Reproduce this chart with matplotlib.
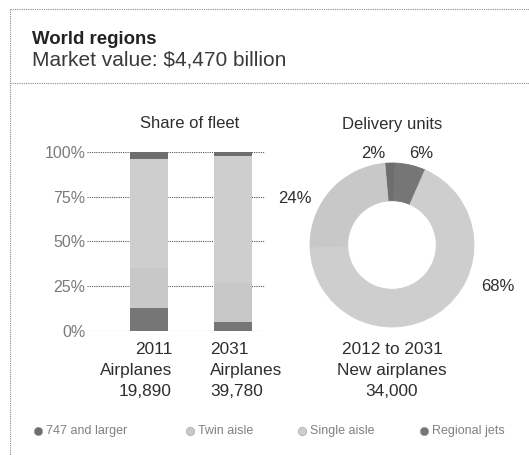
import matplotlib
matplotlib.use("Agg")
import matplotlib.pyplot as plt
import numpy as np

plt.rcParams['font.family'] = ['Liberation Sans', 'DejaVu Sans']

# Fleet share (%) per year, stacked bottom to top
years = ["2011", "2031"]
fleet_counts = ["19,890", "39,780"]
regional_jets = [13, 5]
twin_aisle = [22, 22]
single_aisle = [61, 71]
larger_747 = [4, 2]

# Deliveries 2012-2031 (%), clockwise from the top
delivery_labels = ["747 and larger", "Regional jets", "Single aisle", "Twin aisle"]
delivery_share = [2, 6, 68, 24]
delivery_total = "34,000"

yticks = [0, 25, 50, 75, 100]
legend_names = ["747 and larger", "Twin aisle", "Single aisle", "Regional jets"]

c_747 = "#6e6e6e"
c_regional = "#767676"
c_twin = "#c8c8c8"
c_single = "#cecece"
text_dark = "#2e2e2e"
text_grey = "#7a7a7a"

W, H = 529, 455
fig = plt.figure(figsize=(W / 100, H / 100), dpi=100)


def box(x0, y0, x1, y1):
    # pixel box (top-left origin) -> figure fraction rect
    return [x0 / W, 1 - y1 / H, (x1 - x0) / W, (y1 - y0) / H]


# background layer in pixel units for frame, titles and legend
bg = fig.add_axes([0, 0, 1, 1])
bg.set_xlim(0, W)
bg.set_ylim(H, 0)
bg.axis("off")
frame = dict(color="#8a8a8a", lw=0.8, ls=(0, (1, 1)))
bg.plot([10, 10], [9, H], **frame)
bg.plot([10, W], [9, 9], **frame)
bg.plot([10, W], [83, 83], **frame)

bg.text(32, 40, "World regions", fontsize=13.4, fontweight="bold",
        color="#222222", va="center")
bg.text(32, 60, "Market value: $4,470 billion", fontsize=15,
        color="#3a3a3a", va="center")

bg.text(190, 124, "Share of fleet", fontsize=12, color=text_dark,
        ha="center", va="center")
bg.text(392, 124, "Delivery units", fontsize=12, color=text_dark,
        ha="center", va="center")

# stacked bars
ax = fig.add_axes(box(87, 152, 265, 331))
x = np.arange(len(years))
bottom = np.zeros(len(years))
for vals, col in [(regional_jets, c_regional), (twin_aisle, c_twin),
                  (single_aisle, c_single), (larger_747, c_747)]:
    ax.bar(x, vals, width=0.45, bottom=bottom, color=col, zorder=3)
    bottom += np.array(vals)
ax.set_xlim(-0.734, 1.373)
ax.set_ylim(0, 100)
ax.set_yticks(yticks)
ax.set_yticklabels([f"{t}%" for t in yticks], fontsize=11.5, color=text_grey)
ax.tick_params(axis="y", length=0, pad=1)
ax.set_xticks([])
for t in yticks:
    ax.axhline(t, color="#555555", lw=0.8, ls=(0, (1, 1)), zorder=1)
for s in ax.spines.values():
    s.set_visible(False)
ax.patch.set_alpha(0)

# bar captions
cap_y = [350, 371, 391]
for i, (yr, cnt) in enumerate(zip(years, fleet_counts)):
    xa, ha = (172, "right") if i == 0 else (210, "left")
    for line, yy in zip([yr, "Airplanes", cnt], cap_y):
        bg.text(xa, yy, line, fontsize=12.4, color=text_dark, ha=ha, va="center")

# donut
ax2 = fig.add_axes(box(310, 163, 474, 327))
wedges, _ = ax2.pie(delivery_share, startangle=95, counterclock=False, radius=1,
                    colors=[c_747, c_regional, c_single, c_twin],
                    wedgeprops=dict(width=0.46, linewidth=0.6))
for w in wedges:
    w.set_edgecolor(w.get_facecolor())
ax2.set_xlim(-1, 1)
ax2.set_ylim(-1, 1)
ax2.set_aspect("equal")
label_pos = [(-0.23, 1.12), (0.35, 1.12), (1.29, -0.51), (-1.18, 0.57)]
for v, (lx, ly) in zip(delivery_share, label_pos):
    ax2.text(lx, ly, f"{v}%", fontsize=12, color=text_dark,
             ha="center", va="center")

for line, yy in zip(["2012 to 2031", "New airplanes", delivery_total], cap_y):
    bg.text(392, yy, line, fontsize=12.4, color=text_dark, ha="center", va="center")

# legend
leg_colors = [c_747, c_twin, c_single, c_regional]
leg_x = [38, 190, 302, 424]
for name, col, lx in zip(legend_names, leg_colors, leg_x):
    bg.scatter([lx], [431], s=36, color=col, edgecolor="#999999", lw=0.4)
    bg.text(lx + 8, 431, name, fontsize=9, color="#808080", va="center")

fig.savefig("out.png", dpi=100, facecolor="white")
